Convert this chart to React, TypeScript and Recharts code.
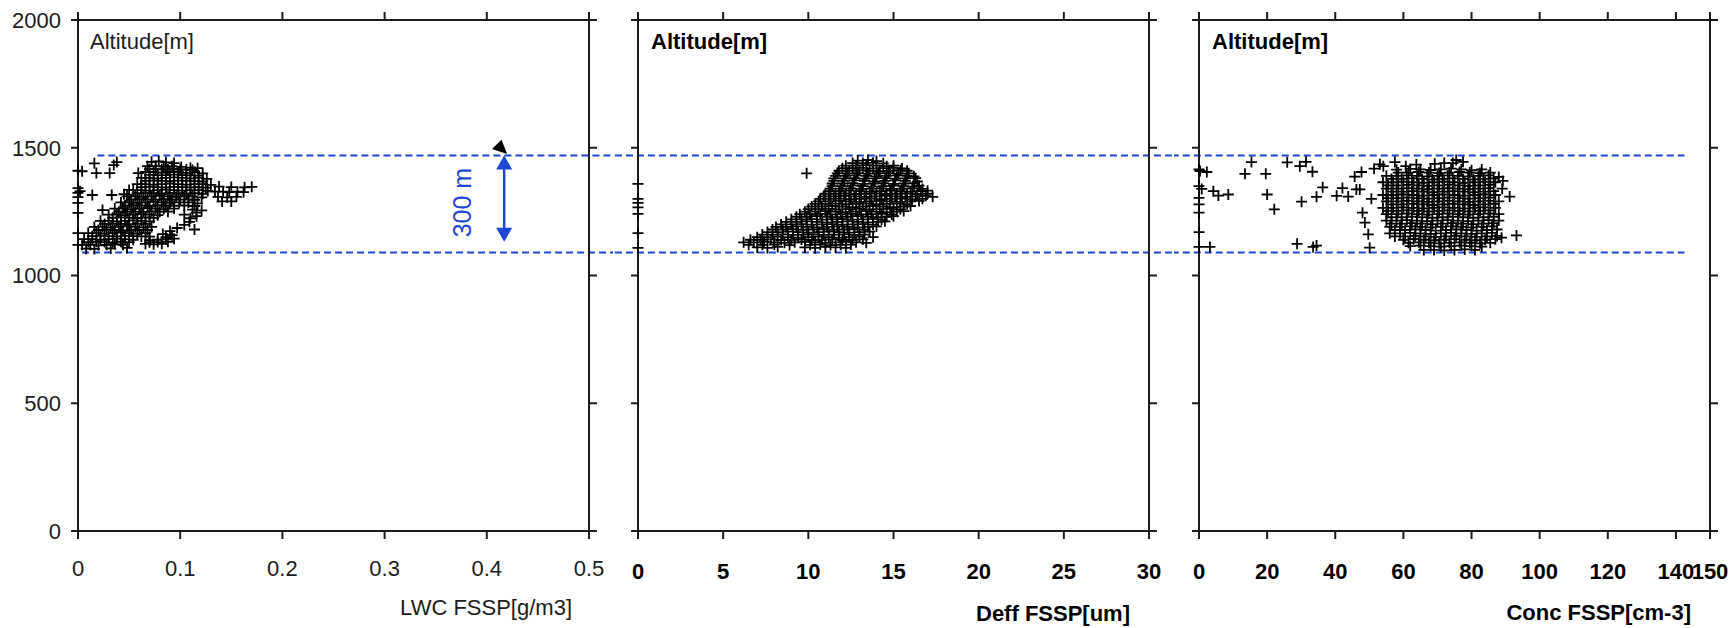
import React from 'react';
import { ScatterChart, Scatter, XAxis, YAxis, ReferenceLine } from 'recharts';

// altitude ticks shared by the three panels
const altTicks = [0, 500, 1000, 1500, 2000];
const lwcTicks = [0, 0.1, 0.2, 0.3, 0.4, 0.5];
const deffTicks = [0, 5, 10, 15, 20, 25, 30];
const concTicks = [0, 20, 40, 60, 80, 100, 120, 140, 150];

// cloud top / base (m) and the 300 m marker
const cloudTop = 1470;
const cloudBase = 1090;
const arrowLwc = 0.417;
const arrowBottom = 1132;

// LWC FSSP [g/m3] vs altitude [m]
const lwcPoints: [number, number][] = [
  [0, 1410], [0.004, 1408], [0, 1342], [0.002, 1330], [0, 1323], [0, 1307], [0, 1284], [0, 1245], [0, 1166], [0, 1120],
  [0.016, 1439], [0.035, 1432], [0.038, 1444], [0.031, 1401], [0.018, 1401], [0.059, 1401], [0.014, 1315], [0.033, 1315],
  [0.024, 1256], [0.05, 1335], [0.045, 1318],
  [0.072, 1445], [0.079, 1447], [0.086, 1443], [0.094, 1440],
  [0.068, 1428], [0.076, 1428], [0.084, 1426], [0.092, 1428], [0.101, 1425], [0.110, 1422], [0.117, 1420],
  [0.066, 1405], [0.074, 1405], [0.082, 1403], [0.090, 1405], [0.098, 1405], [0.106, 1402], [0.114, 1405], [0.122, 1400],
  [0.062, 1382], [0.070, 1382], [0.078, 1380], [0.086, 1382], [0.094, 1384], [0.102, 1382], [0.110, 1380], [0.118, 1382], [0.126, 1378],
  [0.058, 1358], [0.066, 1358], [0.074, 1356], [0.082, 1358], [0.090, 1360], [0.098, 1358], [0.106, 1356], [0.114, 1358], [0.122, 1358], [0.130, 1355],
  [0.054, 1334], [0.062, 1334], [0.070, 1332], [0.078, 1334], [0.086, 1336], [0.094, 1334], [0.102, 1332], [0.110, 1334], [0.118, 1334], [0.127, 1331],
  [0.048, 1310], [0.056, 1310], [0.064, 1308], [0.072, 1310], [0.080, 1312], [0.088, 1310], [0.096, 1308], [0.104, 1310], [0.112, 1310], [0.121, 1306],
  [0.042, 1286], [0.050, 1286], [0.058, 1284], [0.066, 1286], [0.074, 1288], [0.082, 1286], [0.090, 1284], [0.099, 1286], [0.108, 1286], [0.117, 1282],
  [0.036, 1262], [0.044, 1262], [0.052, 1260], [0.060, 1262], [0.068, 1264], [0.076, 1262], [0.084, 1260], [0.094, 1262], [0.112, 1258], [0.121, 1255],
  [0.030, 1238], [0.038, 1238], [0.046, 1236], [0.054, 1238], [0.062, 1240], [0.070, 1238], [0.078, 1236], [0.104, 1238], [0.116, 1232],
  [0.022, 1214], [0.030, 1214], [0.038, 1212], [0.046, 1214], [0.054, 1216], [0.062, 1214], [0.070, 1212], [0.109, 1210],
  [0.016, 1190], [0.024, 1190], [0.032, 1188], [0.040, 1190], [0.048, 1192], [0.056, 1190], [0.064, 1188], [0.072, 1190], [0.097, 1186], [0.114, 1180],
  [0.010, 1166], [0.018, 1166], [0.026, 1164], [0.034, 1166], [0.042, 1168], [0.050, 1166], [0.058, 1164], [0.066, 1166], [0.083, 1162], [0.092, 1158],
  [0.006, 1142], [0.014, 1142], [0.022, 1140], [0.030, 1142], [0.038, 1144], [0.046, 1142], [0.054, 1140], [0.070, 1138], [0.078, 1140], [0.086, 1142], [0.094, 1144],
  [0.004, 1120], [0.012, 1120], [0.020, 1118], [0.028, 1120], [0.036, 1122], [0.044, 1120], [0.066, 1124], [0.074, 1122], [0.082, 1124],
  [0.008, 1105], [0.016, 1104], [0.032, 1106], [0.048, 1108],
  // in-between marks of the dense part
  [0.070, 1416], [0.076, 1416], [0.082, 1415], [0.088, 1416], [0.094, 1417], [0.100, 1414], [0.106, 1415], [0.112, 1413],
  [0.070, 1394], [0.078, 1393], [0.086, 1393], [0.094, 1395], [0.102, 1393], [0.110, 1392], [0.118, 1391],
  [0.066, 1370], [0.074, 1371], [0.082, 1370], [0.090, 1369], [0.098, 1371], [0.106, 1370], [0.114, 1369], [0.122, 1368],
  [0.062, 1346], [0.070, 1347], [0.078, 1346], [0.086, 1345], [0.094, 1347], [0.102, 1346], [0.110, 1345], [0.118, 1346], [0.125, 1344],
  [0.058, 1322], [0.066, 1323], [0.074, 1322], [0.082, 1321], [0.090, 1323], [0.098, 1322], [0.106, 1321], [0.114, 1322], [0.122, 1320],
  [0.052, 1298], [0.060, 1299], [0.068, 1298], [0.076, 1297], [0.084, 1299], [0.092, 1298], [0.100, 1297], [0.108, 1298], [0.114, 1296],
  [0.046, 1274], [0.054, 1275], [0.062, 1274], [0.070, 1273], [0.078, 1275], [0.086, 1274], [0.094, 1273], [0.104, 1274], [0.114, 1272],
  [0.040, 1250], [0.048, 1251], [0.056, 1250], [0.064, 1249], [0.072, 1251], [0.080, 1250], [0.088, 1250], [0.116, 1246],
  [0.034, 1226], [0.042, 1227], [0.050, 1226], [0.058, 1225], [0.066, 1227], [0.074, 1226], [0.110, 1224],
  [0.026, 1202], [0.034, 1203], [0.042, 1202], [0.050, 1201], [0.058, 1203], [0.066, 1202], [0.104, 1198],
  [0.020, 1178], [0.028, 1179], [0.036, 1178], [0.044, 1177], [0.052, 1179], [0.060, 1178], [0.068, 1178], [0.090, 1174],
  [0.014, 1154], [0.022, 1155], [0.030, 1154], [0.038, 1153], [0.046, 1155], [0.054, 1154], [0.062, 1153], [0.070, 1152], [0.086, 1150],
  [0.010, 1131], [0.018, 1132], [0.026, 1131], [0.034, 1130], [0.042, 1132], [0.050, 1131], [0.070, 1130], [0.078, 1131], [0.088, 1132],
  [0.138, 1348], [0.150, 1346], [0.163, 1345], [0.170, 1347],
  [0.134, 1328], [0.142, 1328], [0.148, 1326], [0.156, 1328], [0.162, 1326],
  [0.137, 1308], [0.146, 1306], [0.155, 1308],
  [0.141, 1290], [0.150, 1290],
];

// Deff FSSP [um] vs altitude [m]
const deffPoints: [number, number][] = [
  [0, 1359], [0, 1300], [0, 1284], [0, 1267], [0, 1241], [0, 1166], [0, 1108],
  [9.9, 1400],
  [12.9, 1450], [13.5, 1452], [14.0, 1448],
  [12.6, 1440], [13.2, 1440], [13.8, 1441], [14.4, 1439],
  [12.2, 1430], [12.8, 1430], [13.4, 1432], [14.0, 1430], [14.6, 1428], [15.0, 1430],
  [12.0, 1420], [12.6, 1420], [13.2, 1421], [13.8, 1419], [14.4, 1420], [15.0, 1421], [15.5, 1419],
  [11.8, 1410], [12.4, 1410], [13.0, 1412], [13.6, 1410], [14.2, 1408], [14.8, 1410], [15.4, 1412], [15.8, 1410],
  [11.7, 1400], [12.3, 1400], [12.9, 1401], [13.5, 1399], [14.1, 1400], [14.7, 1401], [15.3, 1399], [15.9, 1400],
  [11.6, 1390], [12.2, 1390], [12.8, 1392], [13.4, 1390], [14.0, 1388], [14.6, 1390], [15.2, 1392], [15.8, 1390], [16.2, 1388],
  [11.5, 1380], [12.1, 1380], [12.7, 1381], [13.3, 1379], [13.9, 1380], [14.5, 1381], [15.1, 1379], [15.7, 1380], [16.3, 1381],
  [11.5, 1370], [12.1, 1370], [12.7, 1372], [13.3, 1370], [13.9, 1368], [14.5, 1370], [15.1, 1372], [15.7, 1370], [16.4, 1368],
  [11.4, 1360], [12.0, 1360], [12.6, 1361], [13.2, 1359], [13.8, 1360], [14.4, 1361], [15.0, 1359], [15.6, 1360], [16.2, 1361],
  [11.4, 1350], [12.0, 1350], [12.6, 1352], [13.2, 1350], [13.8, 1348], [14.4, 1350], [15.0, 1352], [15.6, 1350], [16.2, 1348], [16.5, 1352],
  [11.3, 1340], [11.9, 1340], [12.5, 1341], [13.1, 1339], [13.7, 1340], [14.3, 1341], [14.9, 1339], [15.5, 1340], [16.1, 1341], [16.7, 1339],
  [11.2, 1330], [11.8, 1330], [12.4, 1332], [13.0, 1330], [13.6, 1328], [14.2, 1330], [14.8, 1332], [15.4, 1330], [16.0, 1328], [16.6, 1330], [17.0, 1332],
  [11.0, 1320], [11.6, 1320], [12.2, 1321], [12.8, 1319], [13.4, 1320], [14.0, 1321], [14.6, 1319], [15.2, 1320], [15.8, 1321], [16.4, 1319], [17.0, 1320],
  [10.9, 1310], [11.5, 1310], [12.1, 1312], [12.7, 1310], [13.3, 1308], [13.9, 1310], [14.5, 1312], [15.1, 1310], [15.7, 1308], [16.3, 1310], [16.9, 1312], [17.3, 1308],
  [10.7, 1300], [11.3, 1300], [11.9, 1301], [12.5, 1299], [13.1, 1300], [13.7, 1301], [14.3, 1299], [14.9, 1300], [15.5, 1301], [16.1, 1299], [16.7, 1300],
  [10.6, 1290], [11.2, 1290], [11.8, 1292], [12.4, 1290], [13.0, 1288], [13.6, 1290], [14.2, 1292], [14.8, 1290], [15.4, 1288], [16.0, 1290], [16.5, 1292],
  [10.4, 1280], [11.0, 1280], [11.6, 1281], [12.2, 1279], [12.8, 1280], [13.4, 1281], [14.0, 1279], [14.6, 1280], [15.2, 1281], [15.8, 1279],
  [10.2, 1270], [10.8, 1270], [11.4, 1272], [12.0, 1270], [12.6, 1268], [13.2, 1270], [13.8, 1272], [14.4, 1270], [15.0, 1268], [15.6, 1270], [16.0, 1272],
  [10.0, 1260], [10.6, 1260], [11.2, 1261], [11.8, 1259], [12.4, 1260], [13.0, 1261], [13.6, 1259], [14.2, 1260], [14.8, 1261], [15.4, 1259],
  [9.8, 1250], [10.4, 1250], [11.0, 1252], [11.6, 1250], [12.2, 1248], [12.8, 1250], [13.4, 1252], [14.0, 1250], [14.6, 1248], [15.2, 1250], [15.6, 1252],
  [9.5, 1240], [10.1, 1240], [10.7, 1241], [11.3, 1239], [11.9, 1240], [12.5, 1241], [13.1, 1239], [13.7, 1240], [14.3, 1241], [14.9, 1239],
  [9.3, 1230], [9.9, 1230], [10.5, 1232], [11.1, 1230], [11.7, 1228], [12.3, 1230], [12.9, 1232], [13.5, 1230], [14.1, 1228], [14.6, 1230], [15.0, 1232],
  [9.0, 1220], [9.6, 1220], [10.2, 1221], [10.8, 1219], [11.4, 1220], [12.0, 1221], [12.6, 1219], [13.2, 1220], [13.8, 1221], [14.3, 1219],
  [8.7, 1210], [9.3, 1210], [9.9, 1212], [10.5, 1210], [11.1, 1208], [11.7, 1210], [12.3, 1212], [12.9, 1210], [13.5, 1208], [14.1, 1210], [14.5, 1212],
  [8.4, 1200], [9.0, 1200], [9.6, 1201], [10.2, 1199], [10.8, 1200], [11.4, 1201], [12.0, 1199], [12.6, 1200], [13.2, 1201], [13.8, 1199],
  [8.1, 1190], [8.7, 1190], [9.3, 1192], [9.9, 1190], [10.5, 1188], [11.1, 1190], [11.7, 1192], [12.3, 1190], [12.9, 1188], [13.5, 1190], [14.0, 1192],
  [7.9, 1180], [8.5, 1180], [9.1, 1181], [9.7, 1179], [10.3, 1180], [10.9, 1181], [11.5, 1179], [12.1, 1180], [12.7, 1181], [13.3, 1179],
  [7.6, 1170], [8.2, 1170], [8.8, 1172], [9.4, 1170], [10.0, 1168], [10.6, 1170], [11.2, 1172], [11.8, 1170], [12.4, 1168], [13.0, 1170], [13.6, 1172],
  [7.3, 1160], [7.9, 1160], [8.5, 1161], [9.1, 1159], [9.7, 1160], [10.3, 1161], [10.9, 1159], [11.5, 1160], [12.1, 1161], [12.7, 1159], [13.3, 1160],
  [7.0, 1150], [7.6, 1150], [8.2, 1152], [8.8, 1150], [9.4, 1148], [10.0, 1150], [10.6, 1152], [11.2, 1150], [11.8, 1148], [12.4, 1150], [13.0, 1152], [13.8, 1150],
  [6.6, 1140], [7.2, 1140], [7.8, 1141], [8.4, 1139], [9.0, 1140], [9.6, 1141], [10.2, 1139], [10.8, 1140], [11.4, 1141], [12.0, 1139], [12.6, 1140], [13.2, 1141],
  [6.2, 1130], [6.8, 1130], [7.4, 1132], [8.0, 1130], [8.6, 1128], [9.2, 1130], [9.8, 1132], [10.4, 1130], [11.0, 1128], [11.6, 1130], [12.2, 1132], [12.8, 1130], [13.4, 1128],
  [6.5, 1120], [7.3, 1120], [8.0, 1121], [8.9, 1119], [10.1, 1120], [10.7, 1121], [11.3, 1119], [11.9, 1120], [12.5, 1121],
  [7.0, 1110], [7.6, 1108], [8.2, 1112], [9.8, 1110], [10.4, 1108], [11.0, 1112], [11.6, 1110], [12.2, 1108],
];

// Conc FSSP [cm-3] vs altitude [m]
const concPoints: [number, number][] = [
  [0, 1415], [0, 1350], [0, 1304], [0, 1278], [0, 1246], [0, 1170], [0, 1112],
  [0.3, 1409], [2.3, 1405], [0.8, 1339], [4.2, 1330], [5.7, 1313], [8.6, 1317], [3.2, 1112],
  [13.5, 1398], [15.4, 1444], [19.6, 1398], [20.0, 1317], [22.1, 1259],
  [25.9, 1443], [29.6, 1428], [31.4, 1445], [33.3, 1406], [30.1, 1289],
  [28.8, 1124], [33.5, 1112], [34.5, 1117], [36.3, 1345], [34.5, 1308],
  [40.4, 1312], [42.1, 1342], [43.8, 1309], [46.2, 1337], [47.2, 1337],
  [45.7, 1387], [47.7, 1405], [51.4, 1418], [53.1, 1435], [54.1, 1428],
  [50.6, 1300], [48.0, 1246], [48.7, 1207], [49.7, 1161], [50.1, 1109],
  [91.2, 1309], [93.2, 1157], [88.8, 1148], [89.2, 1370],
  [57.5, 1444], [60.7, 1428], [63.8, 1434], [69.2, 1437], [72.0, 1440], [74.5, 1440], [77.5, 1445], [75.5, 1452],
  [58, 1414], [62, 1417], [65, 1415], [68, 1413], [71, 1415], [74, 1418], [77, 1415], [80, 1412], [83, 1415],
  [58.5, 1403], [61.5, 1403], [64.5, 1405], [67.5, 1403], [70.5, 1401], [73.5, 1403], [76.5, 1405], [79.5, 1403], [82.5, 1401], [85.5, 1403],
  [55, 1390], [58, 1390], [61, 1392], [64, 1390], [67, 1388], [70, 1390], [73, 1392], [76, 1390], [79, 1388], [82, 1390], [85, 1392], [88, 1386],
  [56.5, 1378], [59.5, 1378], [62.5, 1380], [65.5, 1378], [68.5, 1376], [71.5, 1378], [74.5, 1380], [77.5, 1378], [80.5, 1376], [83.5, 1378], [86.5, 1380],
  [54, 1365], [57, 1365], [60, 1367], [63, 1365], [66, 1363], [69, 1365], [72, 1367], [75, 1365], [78, 1363], [81, 1365], [84, 1367], [87, 1365],
  [55.5, 1353], [58.5, 1353], [61.5, 1355], [64.5, 1353], [67.5, 1351], [70.5, 1353], [73.5, 1355], [76.5, 1353], [79.5, 1351], [82.5, 1353], [85.5, 1355],
  [55, 1340], [58, 1340], [61, 1342], [64, 1340], [67, 1338], [70, 1340], [73, 1342], [76, 1340], [79, 1338], [82, 1340], [85, 1342], [89, 1340],
  [56.5, 1328], [59.5, 1328], [62.5, 1330], [65.5, 1328], [68.5, 1326], [71.5, 1328], [74.5, 1330], [77.5, 1328], [80.5, 1326], [83.5, 1328], [86.5, 1330],
  [54, 1315], [57, 1315], [60, 1317], [63, 1315], [66, 1313], [69, 1315], [72, 1317], [75, 1315], [78, 1313], [81, 1315], [84, 1317], [87, 1315],
  [55.5, 1303], [58.5, 1303], [61.5, 1305], [64.5, 1303], [67.5, 1301], [70.5, 1303], [73.5, 1305], [76.5, 1303], [79.5, 1301], [82.5, 1303], [85.5, 1305],
  [55, 1290], [58, 1290], [61, 1292], [64, 1290], [67, 1288], [70, 1290], [73, 1292], [76, 1290], [79, 1288], [82, 1290], [85, 1292], [88, 1290],
  [56.5, 1278], [59.5, 1278], [62.5, 1280], [65.5, 1278], [68.5, 1276], [71.5, 1278], [74.5, 1280], [77.5, 1278], [80.5, 1276], [83.5, 1278], [86.5, 1280],
  [54, 1265], [57, 1265], [60, 1267], [63, 1265], [66, 1263], [69, 1265], [72, 1267], [75, 1265], [78, 1263], [81, 1265], [84, 1267], [87, 1265],
  [55.5, 1253], [58.5, 1253], [61.5, 1255], [64.5, 1253], [67.5, 1251], [70.5, 1253], [73.5, 1255], [76.5, 1253], [79.5, 1251], [82.5, 1253], [85.5, 1255],
  [55, 1240], [58, 1240], [61, 1242], [64, 1240], [67, 1238], [70, 1240], [73, 1242], [76, 1240], [79, 1238], [82, 1240], [85, 1242], [88, 1240],
  [56.5, 1228], [59.5, 1228], [62.5, 1230], [65.5, 1228], [68.5, 1226], [71.5, 1228], [74.5, 1230], [77.5, 1228], [80.5, 1226], [83.5, 1228], [86.5, 1230],
  [55, 1215], [58, 1215], [61, 1217], [64, 1215], [67, 1213], [70, 1215], [73, 1217], [76, 1215], [79, 1213], [82, 1215], [85, 1217], [88, 1215],
  [56.5, 1203], [59.5, 1203], [62.5, 1205], [65.5, 1203], [68.5, 1201], [71.5, 1203], [74.5, 1205], [77.5, 1203], [80.5, 1201], [83.5, 1203], [86.5, 1205],
  [56, 1190], [59, 1190], [62, 1192], [65, 1190], [68, 1188], [71, 1190], [74, 1192], [77, 1190], [80, 1188], [83, 1190], [86, 1192],
  [57.5, 1178], [60.5, 1178], [63.5, 1180], [66.5, 1178], [69.5, 1176], [72.5, 1178], [75.5, 1180], [78.5, 1178], [81.5, 1176], [84.5, 1178], [87.5, 1180],
  [56, 1165], [59, 1165], [62, 1167], [65, 1165], [68, 1163], [71, 1165], [74, 1167], [77, 1165], [80, 1163], [83, 1165], [86, 1167],
  [57.5, 1153], [60.5, 1153], [63.5, 1155], [66.5, 1153], [69.5, 1151], [72.5, 1153], [75.5, 1155], [78.5, 1153], [81.5, 1151], [84.5, 1153], [87.5, 1155],
  [60, 1140], [63, 1142], [66, 1140], [69, 1138], [72, 1140], [75, 1142], [78, 1140], [81, 1138], [84, 1140], [87, 1142],
  [61.5, 1128], [64.5, 1130], [67.5, 1128], [70.5, 1126], [73.5, 1128], [76.5, 1130], [79.5, 1128], [82.5, 1126], [85.5, 1128],
  [62, 1115], [65, 1117], [68, 1115], [71, 1113], [74, 1115], [77, 1117], [80, 1115], [83, 1113],
  [66, 1100], [69, 1100], [72, 1098], [75, 1100], [78, 1102], [81, 1100],
];

const BLUE = '#1d47d4';
const INK = '#1c1c1c';

const narrowFont = { fontFamily: "'Liberation Sans Narrow', 'Arial Narrow', sans-serif", fontSize: 22, fontWeight: 400, fill: INK };
const boldFont = { fontFamily: "'Liberation Sans', Arial, sans-serif", fontSize: 22, fontWeight: 700, fill: '#000' };

const Plus = (props: any) => {
  const { cx, cy } = props;
  if (cx == null || cy == null) return null;
  return (
    <path d={`M${cx - 5.5},${cy}H${cx + 5.5}M${cx},${cy - 5.5}V${cy + 5.5}`} stroke="#000" strokeWidth={1.8} fill="none" />
  );
};

// outward tick marks on the bottom and top frame edges
const XTickMarks = (p: any) => {
  const top = Math.min(p.y1, p.y2);
  const bot = Math.max(p.y1, p.y2);
  return (
    <g stroke={INK} strokeWidth={2}>
      <line x1={p.x1} y1={bot} x2={p.x1} y2={bot + 8} />
      <line x1={p.x1} y1={top - 8} x2={p.x1} y2={top} />
    </g>
  );
};

// outward tick marks on the left and right frame edges
const YTickMarks = (p: any) => {
  const l = Math.min(p.x1, p.x2);
  const r = Math.max(p.x1, p.x2);
  return (
    <g stroke={INK} strokeWidth={2}>
      <line x1={l - 7} y1={p.y1} x2={l} y2={p.y1} />
      <line x1={r} y1={p.y1} x2={r + 8} y2={p.y1} />
    </g>
  );
};

const ArrowShape = (p: any) => {
  const { x1, y1, y2 } = p;
  const top = Math.min(y1, y2);
  const bot = Math.max(y1, y2);
  const x = x1;
  return (
    <g>
      <line x1={x} y1={top + 12} x2={x} y2={bot - 12} stroke={BLUE} strokeWidth={2.5} />
      <polygon points={`${x},${top} ${x - 8},${top + 14} ${x + 8},${top + 14}`} fill={BLUE} />
      <polygon points={`${x},${bot} ${x - 8},${bot - 14} ${x + 8},${bot - 14}`} fill={BLUE} />
      <polygon points={`${x - 2.7},${top - 15.7} ${x - 12.2},${top - 6.4} ${x + 3},${top - 1.4}`} fill="#000" />
      <text
        transform={`translate(${x - 33},${(top + bot) / 2 + 4}) rotate(-90)`}
        textAnchor="middle"
        fill={BLUE}
        fontSize={25}
        fontFamily="'Liberation Sans', Arial, sans-serif"
      >
        300 m
      </text>
    </g>
  );
};

interface PanelProps {
  left: number;
  width: number;
  plotLeft: number;
  plotRight: number;
  points: [number, number][];
  xDomain: [number, number];
  xTicks: number[];
  font: any;
  showYLabels: boolean;
  xTitle: string;
  titleRight: number;
  titleBase: number;
  tickGap: number;
  titleIndent: number;
  topLine: [number, number];
  baseLine: [number, number];
  children?: React.ReactNode;
}

const PLOT_TOP = 20;
const PLOT_BOTTOM = 531;

const Panel: React.FC<PanelProps> = (p) => {
  const yw = p.showYLabels ? 60 : 20;
  const data = p.points.map(([x, y]) => ({ x, y }));
  return (
    <div style={{ position: 'absolute', left: p.left, top: 0 }}>
      <ScatterChart
        width={p.width}
        height={628}
        margin={{ top: PLOT_TOP - 1, right: p.width - p.plotRight - 1, bottom: 628 - PLOT_BOTTOM - 90, left: p.plotLeft - yw }}
      >
        <XAxis
          type="number"
          dataKey="x"
          domain={p.xDomain}
          ticks={p.xTicks}
          interval={0}
          height={90}
          tickSize={8}
          tickMargin={p.tickGap}
          stroke={INK}
          strokeWidth={2}
          axisLine
          tickLine={false}
          tick={p.font}
          label={{
            content: ({ viewBox }: any) => (
              <text
                x={viewBox.x + viewBox.width - p.titleRight}
                y={viewBox.y + p.titleBase}
                textAnchor="end"
                {...p.font}
              >
                {p.xTitle}
              </text>
            ),
          }}
        />
        <XAxis
          xAxisId="top"
          orientation="top"
          type="number"
          domain={p.xDomain}
          ticks={p.xTicks}
          interval={0}
          height={1}
          stroke={INK}
          strokeWidth={2}
          axisLine
          tickLine={false}
          tick={false}
        />
        <YAxis
          type="number"
          dataKey="y"
          domain={[0, 2000]}
          ticks={altTicks}
          interval={0}
          width={yw}
          tickSize={7}
          tickMargin={10}
          stroke={INK}
          strokeWidth={2}
          axisLine
          tickLine={false}
          tick={p.showYLabels ? narrowFont : false}
          label={{
            content: ({ viewBox }: any) => (
              <text x={viewBox.x + viewBox.width + p.titleIndent} y={viewBox.y + 29} {...p.font}>
                Altitude[m]
              </text>
            ),
          }}
        />
        <YAxis
          yAxisId="right"
          orientation="right"
          type="number"
          domain={[0, 2000]}
          ticks={altTicks}
          interval={0}
          width={1}
          stroke={INK}
          strokeWidth={2}
          axisLine
          tickLine={false}
          tick={false}
        />
        <ReferenceLine y={0} ifOverflow="visible" stroke={INK} strokeWidth={2} />
        {p.xTicks.map((v) => (
          <ReferenceLine key={`xt${v}`} x={v} ifOverflow="visible" shape={XTickMarks} />
        ))}
        {altTicks.map((v) => (
          <ReferenceLine key={`yt${v}`} y={v} ifOverflow="visible" shape={YTickMarks} />
        ))}
        <ReferenceLine
          segment={[{ x: p.topLine[0], y: cloudTop }, { x: p.topLine[1], y: cloudTop }]}
          ifOverflow="visible"
          stroke={BLUE}
          strokeWidth={2}
          strokeDasharray="7 4"
        />
        <ReferenceLine
          segment={[{ x: p.baseLine[0], y: cloudBase }, { x: p.baseLine[1], y: cloudBase }]}
          ifOverflow="visible"
          stroke={BLUE}
          strokeWidth={2}
          strokeDasharray="7 4"
        />
        {p.children}
        <Scatter data={data} shape={Plus} isAnimationActive={false} />
      </ScatterChart>
    </div>
  );
};

export default function App() {
  return (
    <div style={{ position: 'absolute', left: 0, top: 0, width: 1734, height: 628, background: '#fff', overflow: 'hidden' }}>
      <Panel
        left={0}
        width={613}
        plotLeft={78}
        plotRight={589}
        points={lwcPoints}
        xDomain={[0, 0.5]}
        xTicks={lwcTicks}
        font={narrowFont}
        showYLabels
        xTitle="LWC FSSP[g/m3]"
        titleRight={17}
        titleBase={84}
        tickGap={21}
        titleIndent={12}
        topLine={[0.019, 0.53]}
        baseLine={[0.004, 0.53]}
      >
        <ReferenceLine
          segment={[{ x: arrowLwc, y: cloudTop }, { x: arrowLwc, y: arrowBottom }]}
          ifOverflow="visible"
          shape={ArrowShape}
        />
      </Panel>
      <Panel
        left={613}
        width={561}
        plotLeft={25}
        plotRight={536}
        points={deffPoints}
        xDomain={[0, 30]}
        xTicks={deffTicks}
        font={boldFont}
        showYLabels={false}
        xTitle="Deff FSSP[um]"
        titleRight={19}
        titleBase={90}
        tickGap={24}
        titleIndent={13}
        topLine={[-2, 32]}
        baseLine={[-2, 32]}
      />
      <Panel
        left={1174}
        width={560}
        plotLeft={25}
        plotRight={536}
        points={concPoints}
        xDomain={[0, 150]}
        xTicks={concTicks}
        font={boldFont}
        showYLabels={false}
        xTitle="Conc FSSP[cm-3]"
        titleRight={19}
        titleBase={89}
        tickGap={24}
        titleIndent={13}
        topLine={[-8, 142.5]}
        baseLine={[-8, 142.5]}
      />
    </div>
  );
}
